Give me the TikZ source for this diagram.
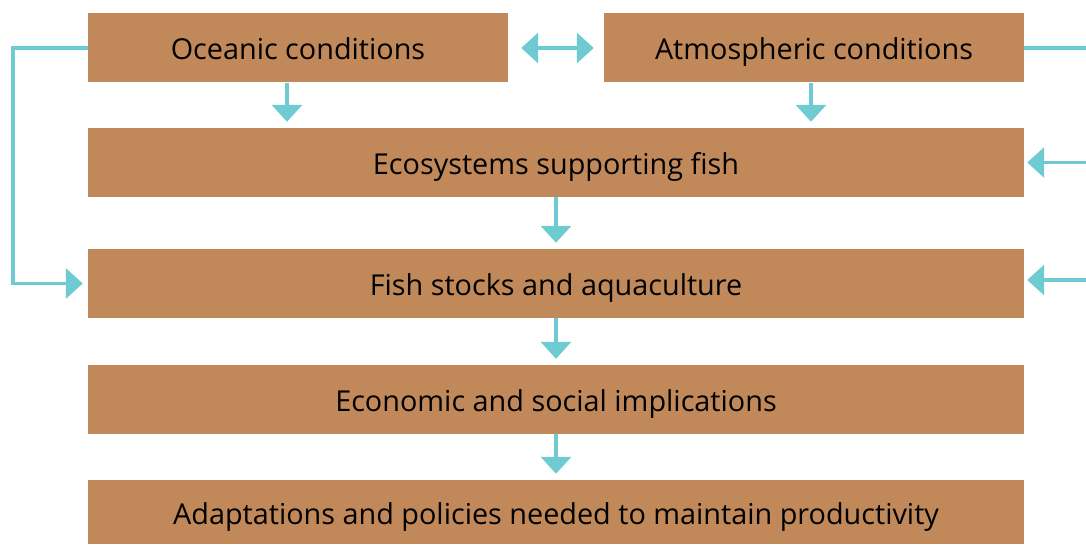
\documentclass[tikz,border=0pt]{standalone}
\usepackage{fontspec}
\setmainfont{Open Sans}
\usetikzlibrary{arrows.meta}

\definecolor{boxbrown}{HTML}{C1895A}
\definecolor{flowteal}{HTML}{6FCBD2}

\tikzset{
  stage/.style={fill=boxbrown, inner sep=0pt, minimum height=69,
    text height=29pt, text depth=5pt, font=\fontsize{28.8}{34}\selectfont},
  halfstage/.style={stage, minimum width=420},
  widestage/.style={stage, minimum width=936},
  flow/.style={flowteal, line width=3.5, -{Triangle[width=30,length=17]}},
}

\begin{document}
\begin{tikzpicture}[x=1pt,y=-1pt]
\clip (0,0) rectangle (1086,545);

\node[halfstage] (ocean) at (298,48) {Oceanic conditions};
\node[halfstage] (atmos) at (814,48) {Atmospheric conditions};
\node[widestage] (eco) at (556,162.5) {Ecosystems supporting fish};
\node[widestage] (fish) at (556,283.5) {Fish stocks and aquaculture};
\node[widestage] (econ) at (556,399.5) {Economic and social implications};
\node[widestage, minimum height=64] (adapt) at (556,512) {Adaptations and policies needed to maintain productivity};

\coordinate (leftrail) at (13,48);
\coordinate (rightrail) at (1100,48);
\coordinate (rightlow) at (1100,280);
\coordinate (oceandrop) at ([xshift=-11]ocean.south);
\coordinate (atmosdrop) at ([xshift=-3]atmos.south);

% ocean <-> atmosphere
\draw[flow, {Triangle[width=30,length=17]}-{Triangle[width=30,length=17]}, shorten <=13, shorten >=10] (ocean.east) -- (atmos.west);

% top row feeding the ecosystems
\draw[flow, shorten >=6] (oceandrop) -- (oceandrop |- eco.north);
\draw[flow, shorten >=6] (atmosdrop) -- (atmosdrop |- eco.north);

% chain down the middle
\foreach \from/\to in {eco/fish, fish/econ, econ/adapt}
	\draw[flow, shorten >=6] (\from.south) -- (\to.north);

% side rails
\draw[flow, shorten >=5] (ocean.west) -- (leftrail) |- (fish.west);
\draw[flow, -] (atmos.east) -- (rightrail) -- (rightlow);
\draw[flow, shorten >=3] (rightrail |- eco.east) -- (eco.east);
\draw[flow, shorten >=3] (rightlow) -- ([yshift=3.5]fish.east);

\end{tikzpicture}
\end{document}
